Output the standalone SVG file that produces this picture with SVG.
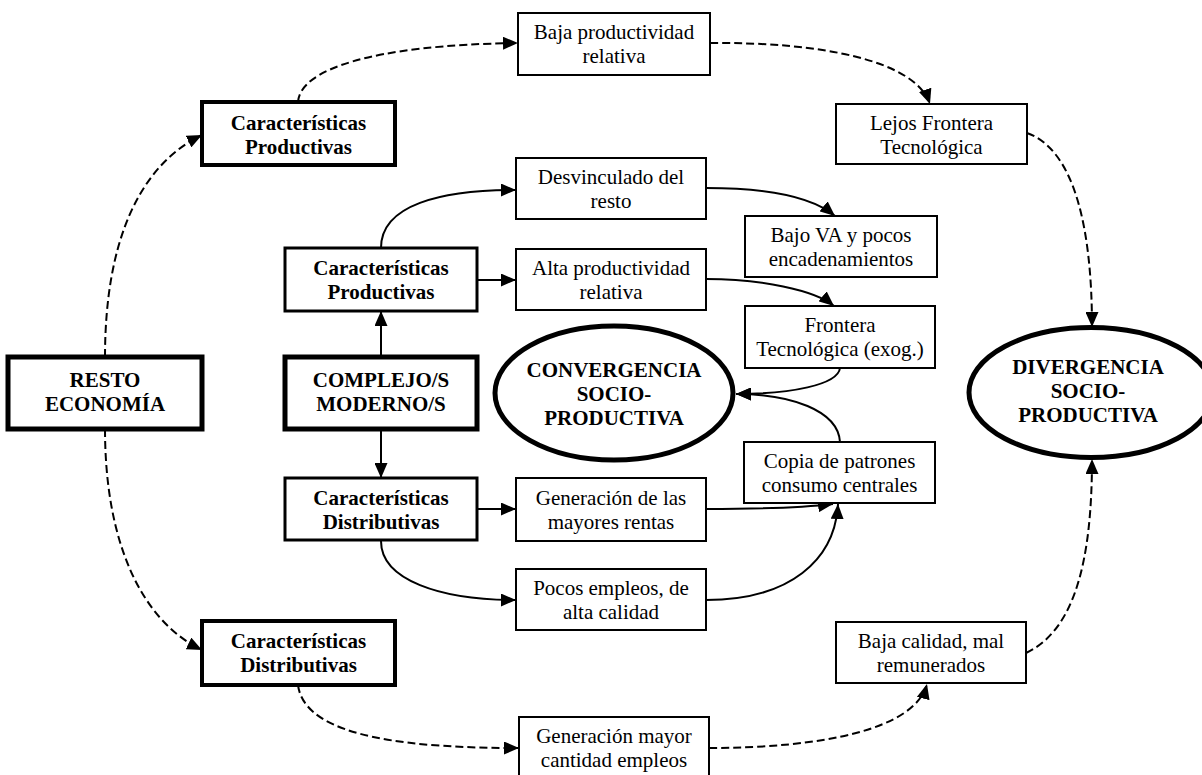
<svg xmlns="http://www.w3.org/2000/svg" width="1202" height="775" viewBox="0 0 1202 775">
<style>
  .box{fill:#fff;stroke:#000;stroke-width:2}
  .b3{stroke-width:3}
  .b4{stroke-width:4}
  .b5{stroke-width:5}
  .ell{fill:#fff;stroke:#000;stroke-width:5}
  text{font-family:"Liberation Serif","Times New Roman",serif;font-size:21px;fill:#000;text-anchor:middle}
  .bold{font-weight:bold}
  .c{fill:none;stroke:#000;stroke-width:2}
  .d{stroke-dasharray:8,4}
</style>
<defs>
  <marker id="ah" markerUnits="userSpaceOnUse" markerWidth="15" markerHeight="13" refX="15" refY="6.5" orient="auto">
    <path d="M0,0 L15,6.5 L0,13 z" fill="#000"/>
  </marker>
</defs>
<rect width="1202" height="775" fill="#fff"/>

<g id="connectors">
  <path class="c d" d="M105,357 C105,240 140,165 202,135" marker-end="url(#ah)"/>
  <path class="c d" d="M298,102 C300,70 370,45 518,43" marker-end="url(#ah)"/>
  <path class="c d" d="M710,43 C820,42 915,60 930,104" marker-end="url(#ah)"/>
  <path class="c d" d="M1027,133 C1075,150 1092,230 1092,327" marker-end="url(#ah)"/>
  <path class="c d" d="M105,429 C105,540 140,620 202,650" marker-end="url(#ah)"/>
  <path class="c d" d="M298,685 C305,740 420,748 519,748" marker-end="url(#ah)"/>
  <path class="c d" d="M709,748 C820,748 915,730 927,684" marker-end="url(#ah)"/>
  <path class="c d" d="M1026,653 C1075,630 1092,560 1092,459" marker-end="url(#ah)"/>
  <path class="c" d="M381,357 L381,311" marker-end="url(#ah)"/>
  <path class="c" d="M381,429 L381,478" marker-end="url(#ah)"/>
  <path class="c" d="M381,248 C381,205 440,190 516,190" marker-end="url(#ah)"/>
  <path class="c" d="M477,280 L516,280" marker-end="url(#ah)"/>
  <path class="c" d="M706,188 C760,188 810,195 835,216" marker-end="url(#ah)"/>
  <path class="c" d="M706,279 C760,279 815,290 834,306" marker-end="url(#ah)"/>
  <path class="c" d="M840,368 C838,385 790,394 736,394" marker-end="url(#ah)"/>
  <path class="c" d="M840,442 C838,410 790,394 736,394" marker-end="url(#ah)"/>
  <path class="c" d="M706,509 C760,509 800,508 833,504" marker-end="url(#ah)"/>
  <path class="c" d="M706,600 C790,600 835,560 838,504" marker-end="url(#ah)"/>
  <path class="c" d="M477,509 L516,509" marker-end="url(#ah)"/>
  <path class="c" d="M381,541 C381,580 440,600 516,600" marker-end="url(#ah)"/>
</g>

<g id="n-baja-productividad">
  <rect class="box" x="518" y="13" width="192" height="62"/>
  <text x="614" y="39">Baja productividad</text>
  <text x="614" y="63">relativa</text>
</g>
<g id="n-carac-prod-top">
  <rect class="box b4" x="202" y="102" width="193" height="63"/>
  <text class="bold" x="298.5" y="130">Características</text>
  <text class="bold" x="298.5" y="154">Productivas</text>
</g>
<g id="n-lejos">
  <rect class="box" x="836" y="104" width="191" height="60"/>
  <text x="931.5" y="130">Lejos Frontera</text>
  <text x="931.5" y="154">Tecnológica</text>
</g>
<g id="n-desvinculado">
  <rect class="box" x="516" y="158" width="190" height="61"/>
  <text x="611" y="184">Desvinculado del</text>
  <text x="611" y="208">resto</text>
</g>
<g id="n-bajo-va">
  <rect class="box" x="745" y="216" width="192" height="61"/>
  <text x="841" y="242">Bajo VA y pocos</text>
  <text x="841" y="266">encadenamientos</text>
</g>
<g id="n-carac-prod-mid">
  <rect class="box b3" x="285" y="248" width="192" height="63"/>
  <text class="bold" x="381" y="275">Características</text>
  <text class="bold" x="381" y="299">Productivas</text>
</g>
<g id="n-alta-productividad">
  <rect class="box" x="516" y="249" width="190" height="61"/>
  <text x="611" y="275">Alta productividad</text>
  <text x="611" y="299">relativa</text>
</g>
<g id="n-frontera">
  <rect class="box" x="745" y="306" width="190" height="62"/>
  <text x="840" y="332">Frontera</text>
  <text x="840" y="356">Tecnológica (exog.)</text>
</g>
<g id="n-resto">
  <rect class="box b5" x="8" y="357" width="194" height="72"/>
  <text class="bold" x="105" y="387">RESTO</text>
  <text class="bold" x="105" y="411">ECONOMÍA</text>
</g>
<g id="n-complejo">
  <rect class="box b5" x="285" y="357" width="192" height="72"/>
  <text class="bold" x="381" y="387">COMPLEJO/S</text>
  <text class="bold" x="381" y="411">MODERNO/S</text>
</g>
<g id="n-convergencia">
  <ellipse class="ell" cx="614" cy="393" rx="119" ry="67"/>
  <text class="bold" x="614" y="377">CONVERGENCIA</text>
  <text class="bold" x="614" y="401">SOCIO-</text>
  <text class="bold" x="614" y="425">PRODUCTIVA</text>
</g>
<g id="n-divergencia">
  <ellipse class="ell" cx="1091" cy="392.5" rx="122" ry="65"/>
  <text class="bold" x="1088" y="374">DIVERGENCIA</text>
  <text class="bold" x="1088" y="398">SOCIO-</text>
  <text class="bold" x="1088" y="422">PRODUCTIVA</text>
</g>
<g id="n-copia">
  <rect class="box" x="744" y="442" width="191" height="61"/>
  <text x="839.5" y="468">Copia de patrones</text>
  <text x="839.5" y="492">consumo centrales</text>
</g>
<g id="n-carac-dist-mid">
  <rect class="box b3" x="285" y="478" width="192" height="62"/>
  <text class="bold" x="381" y="505">Características</text>
  <text class="bold" x="381" y="529">Distributivas</text>
</g>
<g id="n-generacion-rentas">
  <rect class="box" x="516" y="478" width="190" height="63"/>
  <text x="611" y="505">Generación de las</text>
  <text x="611" y="529">mayores rentas</text>
</g>
<g id="n-pocos-empleos">
  <rect class="box" x="516" y="569" width="190" height="61"/>
  <text x="611" y="595">Pocos empleos, de</text>
  <text x="611" y="619">alta calidad</text>
</g>
<g id="n-carac-dist-bottom">
  <rect class="box b4" x="202" y="621" width="193" height="64"/>
  <text class="bold" x="298.5" y="648">Características</text>
  <text class="bold" x="298.5" y="672">Distributivas</text>
</g>
<g id="n-baja-calidad">
  <rect class="box" x="836" y="622" width="190" height="61"/>
  <text x="931" y="648">Baja calidad, mal</text>
  <text x="931" y="672">remunerados</text>
</g>
<g id="n-generacion-empleos">
  <rect class="box" x="519" y="717" width="190" height="62"/>
  <text x="614" y="743">Generación mayor</text>
  <text x="614" y="767">cantidad empleos</text>
</g>
</svg>
